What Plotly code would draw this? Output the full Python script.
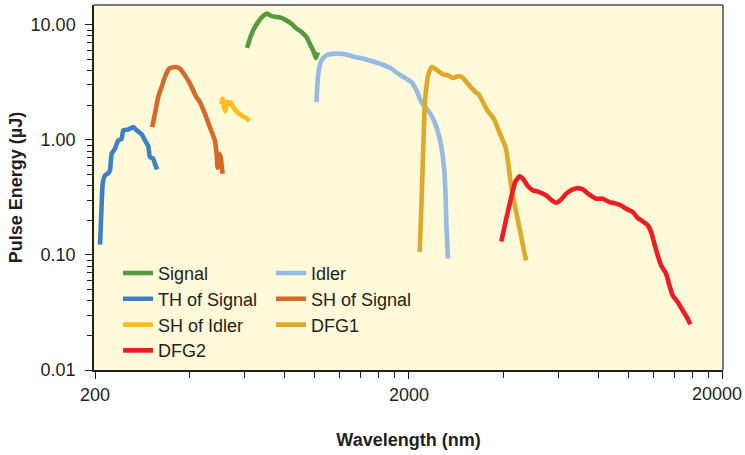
import plotly.graph_objects as go

# ---------------- data ----------------
signal_wl = [610, 623, 638, 662, 686, 707, 730, 757, 785, 815, 845, 877, 909, 943, 966, 990, 1010, 1025]
signal_pe = [6.29, 7.59, 8.96, 10.6, 11.9, 12.5, 11.9, 11.7, 11.5, 10.9, 10.2, 9.27, 8.66, 7.83, 6.86, 6.00, 5.14, 5.77]

th_signal_wl = [207.5, 210, 211.6, 215.2, 220.5, 223.2, 226, 231.5, 237.2, 243.2, 246, 255.3, 264.8,
                271.4, 281.6, 288.5, 295.6, 299.2, 306.6, 310.4, 315.6]
th_signal_pe = [0.123, 0.279, 0.416, 0.491, 0.514, 0.543, 0.758, 0.838, 0.99, 1.02, 1.21, 1.23, 1.29,
                1.21, 1.12, 0.99, 0.878, 0.709, 0.686, 0.621, 0.554]

sh_signal_wl = [304.3, 310.4, 318, 326, 334, 344.7, 359.3, 372.8, 386.7, 401.2, 419.2, 431.7, 447.7,
                464.4, 481.7, 487.8, 491.4, 497.2, 502.4, 509.8]
sh_signal_pe = [1.29, 1.69, 2.36, 2.88, 3.52, 4.16, 4.30, 4.16, 3.64, 3.08, 2.39, 2.13, 1.69,
                1.29, 0.99, 0.758, 0.573, 0.758, 0.709, 0.508]

sh_idler_wl = [506, 509.8, 514.6, 520.4, 527.3, 535.8, 541.8, 550.8, 564.6, 578.6, 592.8, 607.8, 620.4]
sh_idler_pe = [2.04, 2.27, 1.96, 1.77, 2.14, 2.04, 2.12, 1.93, 1.77, 1.67, 1.60, 1.54, 1.45]

idler_wl = [1015, 1022, 1032, 1053, 1092, 1160, 1249, 1344, 1428, 1519, 1634, 1758, 1845, 1938, 2036,
            2112, 2190, 2300, 2386, 2474, 2536, 2586, 2612, 2630, 2662]
idler_pe = [2.13, 3.08, 4.02, 4.91, 5.43, 5.62, 5.54, 5.25, 5.08, 4.84, 4.54, 4.16, 3.77, 3.47, 3.18,
            2.70, 2.13, 1.81, 1.53, 1.17, 0.866, 0.580, 0.364, 0.187, 0.0927]

dfg1_wl = [2163, 2190, 2216, 2244, 2272, 2310, 2368, 2462, 2566, 2662, 2760, 2864, 2950, 3046, 3160,
           3254, 3334, 3440, 3552, 3658, 3748, 3840, 3936, 4062, 4130, 4182, 4234, 4338, 4446, 4558,
           4670, 4728]
dfg1_pe = [0.106, 0.260, 0.709, 1.93, 2.88, 3.77, 4.30, 4.02, 3.71, 3.64, 3.45, 3.57, 3.52, 3.18, 2.84,
           2.60, 2.49, 2.13, 1.81, 1.63, 1.48, 1.25, 1.06, 0.866, 0.663, 0.508, 0.389, 0.279, 0.200,
           0.143, 0.102, 0.0896]

dfg2_wl = [3936, 4082, 4234, 4360, 4500, 4610, 4782, 4960, 5210, 5472, 5702, 5888, 6108, 6336, 6650,
           6898, 7156, 7516, 7894, 8286, 8702, 9140, 9480, 9834, 10320, 10704, 11104, 11520, 11810,
           12100, 12396, 12710, 13184, 13506, 13836, 14354, 14888, 15444, 15752]
dfg2_pe = [0.131, 0.206, 0.318, 0.430, 0.482, 0.460, 0.397, 0.364, 0.352, 0.329, 0.298, 0.284, 0.304,
           0.341, 0.371, 0.381, 0.371, 0.334, 0.308, 0.308, 0.288, 0.279, 0.269, 0.252, 0.236, 0.209,
           0.196, 0.181, 0.158, 0.125, 0.099, 0.0811, 0.0686, 0.0543, 0.0444, 0.0389, 0.0329, 0.0279,
           0.0249]

x_major_vals = [200, 2000, 20000]
x_major_text = ["200", "2000", "20000"]
x_minor_vals = [400, 600, 800, 1000, 1200, 1400, 1600, 1800,
                4000, 6000, 8000, 10000, 12000, 14000, 16000, 18000]
y_major_vals = [0.01, 0.1, 1, 10]
y_major_text = ["0.01", "0.10", "1.00", "10.00"]
y_minor_vals = [m * d for d in (0.01, 0.1, 1) for m in range(2, 10)] + [20]

# ---------------- styling ----------------
FONT = "Liberation Sans, Arial, sans-serif"
FS = 18
TXT = "#231F20"

series = [
    # name, x, y, colour, legend id, legend column, legend row
    ("Signal", signal_wl, signal_pe, "#579A3E", "legend", 0, 0),
    ("Idler", idler_wl, idler_pe, "#96BAE3", "legend2", 1, 0),
    ("TH of Signal", th_signal_wl, th_signal_pe, "#3F80C2", "legend3", 0, 1),
    ("SH of Signal", sh_signal_wl, sh_signal_pe, "#D4692A", "legend4", 1, 1),
    ("SH of Idler", sh_idler_wl, sh_idler_pe, "#FDBD1A", "legend5", 0, 2),
    ("DFG1", dfg1_wl, dfg1_pe, "#E0A82B", "legend6", 1, 2),
    ("DFG2", dfg2_wl, dfg2_pe, "#EE1D25", "legend7", 0, 3),
]

W, H = 745, 455
ML, MR, MT, MB = 94, 22, 5, 85
PW, PH = W - ML - MR, H - MT - MB

fig = go.Figure()
layout_legends = {}
col_px = [118, 271]
row_center_px = [273, 298.8, 324.6, 350.4]
for name, xs, ys, col, lg, c, r in series:
    fig.add_trace(go.Scatter(x=xs, y=ys, mode="lines", name=name, showlegend=True,
                             line=dict(color=col, width=4.6, shape="spline", smoothing=0.5),
                             legend=lg))
    top_px = row_center_px[r] - 18.2
    layout_legends[lg] = dict(
        x=(col_px[c] - ML) / PW, xanchor="left",
        y=(MT + PH - top_px) / PH, yanchor="top",
        bgcolor="rgba(0,0,0,0)", borderwidth=0,
        font=dict(family=FONT, size=FS, color=TXT),
        itemwidth=30, visible=True,
    )

fig.update_layout(
    width=W, height=H,
    margin=dict(l=ML, r=MR, t=MT, b=MB, autoexpand=False),
    paper_bgcolor="white",
    plot_bgcolor="#FDF9D9",
    showlegend=True,
    font=dict(family=FONT, size=FS, color=TXT),
    **layout_legends,
)

# the last label ("20000") sits at the very right edge of the page: it is drawn as an
# annotation right-aligned to the page edge so that it is not clipped
last_label = x_major_text[-1]
x_tick_labels = x_major_text[:-1] + [""]
fig.add_annotation(text=last_label, xref="paper", yref="paper", x=1, y=0,
                   xanchor="right", yanchor="middle", xshift=21, yshift=-24,
                   showarrow=False, font=dict(family=FONT, size=FS, color=TXT))

fig.update_xaxes(
    type="log", range=[2.2978, 4.3012], automargin=False,
    tickmode="array", tickvals=x_major_vals, ticktext=x_tick_labels,
    ticklabeloverflow="allow",
    ticks="outside", ticklen=7, tickwidth=1.3, tickcolor=TXT,
    minor=dict(tickmode="array", tickvals=x_minor_vals, ticks="outside", ticklen=6,
               tickwidth=1.3, tickcolor=TXT, showgrid=False),
    showline=True, linecolor=TXT, linewidth=1.5,
    showgrid=False, zeroline=False,
    tickfont=dict(family=FONT, size=FS, color=TXT),
    ticklabelstandoff=1,
    title=dict(text="<b>Wavelength (nm)</b>", font=dict(family=FONT, size=FS, color=TXT), standoff=29),
)
fig.update_yaxes(
    type="log", range=[-2, 1.172], automargin=False,
    tickmode="array", tickvals=y_major_vals, ticktext=y_major_text,
    ticklabeloverflow="allow",
    ticks="outside", ticklen=7, tickwidth=1.3, tickcolor=TXT,
    minor=dict(tickmode="array", tickvals=y_minor_vals, ticks="outside", ticklen=5,
               tickwidth=1.3, tickcolor=TXT, showgrid=False),
    showline=True, linecolor=TXT, linewidth=1.5,
    showgrid=False, zeroline=False,
    tickfont=dict(family=FONT, size=FS, color=TXT),
    ticklabelstandoff=6,
    title=dict(text="<b>Pulse Energy (µJ)</b>", font=dict(family=FONT, size=FS, color=TXT), standoff=3),
)

# grey frame on top and right
fig.add_shape(type="line", xref="paper", yref="paper", x0=0, x1=1, y0=1, y1=1,
              line=dict(color="#77787B", width=2), layer="above")
fig.add_shape(type="line", xref="paper", yref="paper", x0=1, x1=1, y0=0, y1=1,
              line=dict(color="#77787B", width=2), layer="above")

# remove the default page margin so the figure sits at the window's corner
fig.write_html("out.html", config={"displayModeBar": False},
               post_script="document.body.style.margin='0';")
